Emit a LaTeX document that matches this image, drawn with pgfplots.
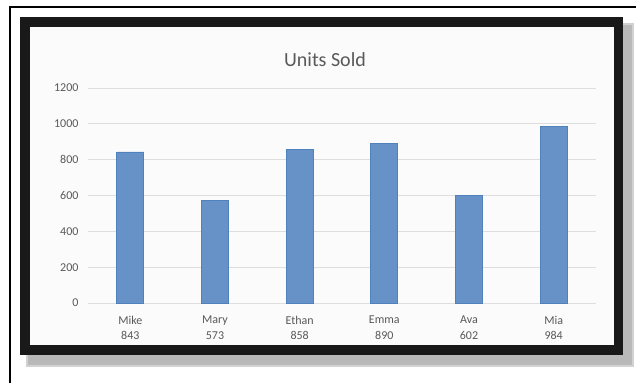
\documentclass[border=0pt]{standalone}
\usepackage{pgfplots}
\pgfplotsset{compat=1.18}
\usepackage{fontspec}
\setmainfont{Carlito}
\definecolor{barfill}{RGB}{103,146,200}
\definecolor{barline}{RGB}{79,129,189}
\definecolor{txt}{RGB}{89,89,89}
\definecolor{gridc}{RGB}{222,222,222}
\definecolor{panel}{RGB}{251,251,251}
\begin{document}
\begin{tikzpicture}[x=1pt,y=1pt]
\useasboundingbox (0,0) rectangle (636,383);
\fill[white] (0,0) rectangle (636,383);
% outer thin frame
\draw[black, line width=2pt] (10,0) -- (10,376) -- (636,376);
% shadow
\fill[gray!55] (28,18) rectangle (632,358);
\fill[gray!35] (26,16) rectangle (634,360);
\fill[gray!55] (28,18) rectangle (632,358);
% thick frame
\fill[black!90] (20,28) rectangle (623,366);
\fill[panel] (30,38) rectangle (614,356);
% title
\node[text=txt, font=\fontsize{20}{24}\selectfont] at (325,323) {Units Sold};
\begin{axis}[
  at={(88pt,80pt)}, anchor=south west,
  scale only axis, width=508pt, height=215pt,
  xmin=-0.5, xmax=5.5, ymin=0, ymax=1200,
  ytick={0,200,...,1200},
  xtick={0,1,2,3,4,5},
  xticklabels={{Mike\\843},{Mary\\573},{Ethan\\858},{Emma\\890},{Ava\\602},{Mia\\984}},
  axis line style={draw=none},
  tick style={draw=none},
  ymajorgrids, grid style={gridc, line width=0.8pt},
  yticklabel style={text=txt, font=\fontsize{12}{14}\selectfont, xshift=-6pt},
  xticklabel style={text=txt, font=\fontsize{12}{15.5}\selectfont, align=center, yshift=-5pt},
  /pgf/number format/assume math mode=true,
  /pgf/number format/1000 sep={},
  ybar, bar width=27pt,
]
\addplot[fill=barfill, draw=barline, line width=0.8pt] coordinates {(0,843) (1,573) (2,858) (3,890) (4,602) (5,984)};
\end{axis}
\end{tikzpicture}
\end{document}
